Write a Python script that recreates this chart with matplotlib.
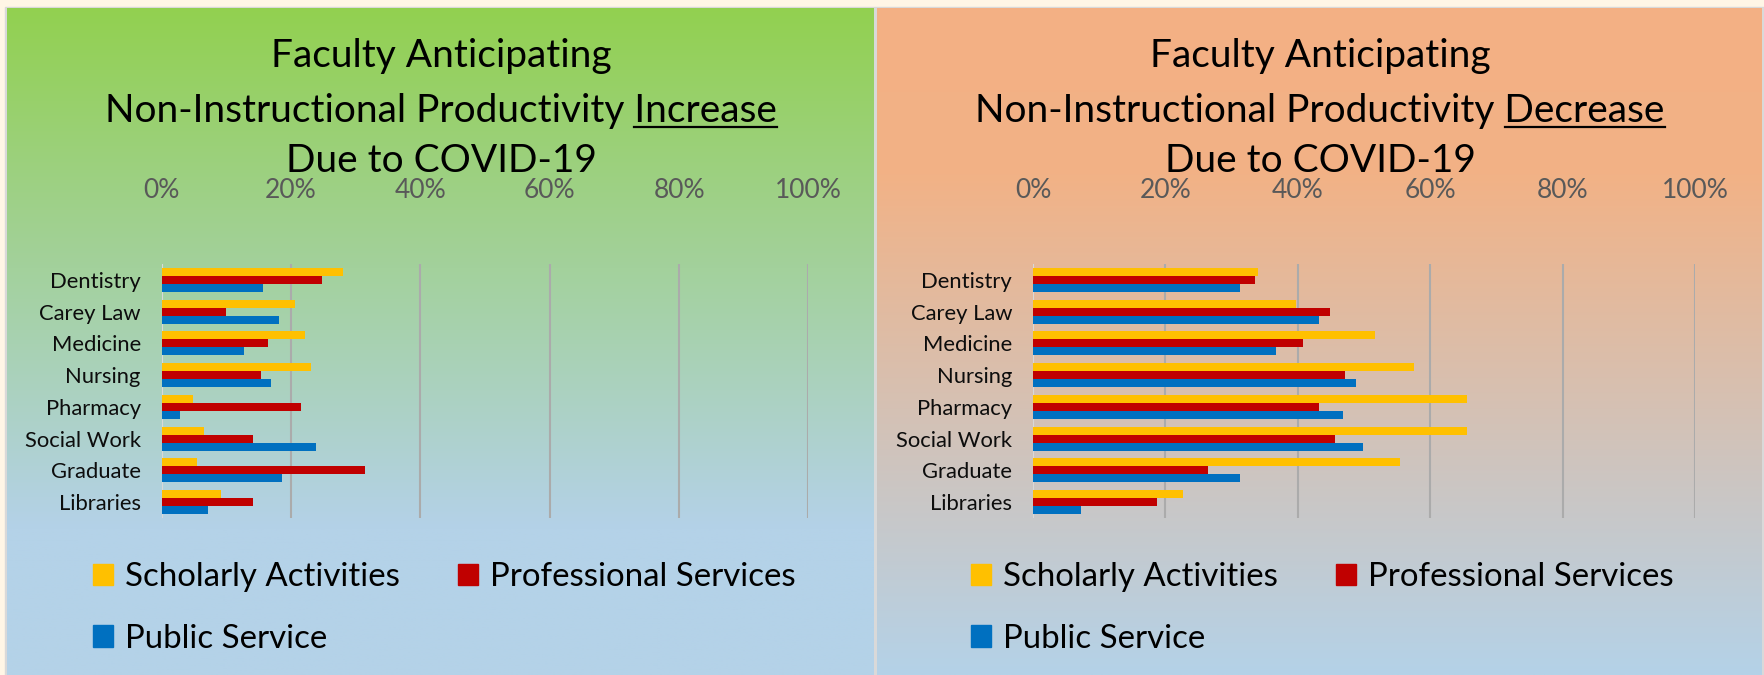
import numpy as np
import matplotlib.pyplot as plt
from matplotlib.patches import Patch, Rectangle
from matplotlib.lines import Line2D

plt.rcParams['font.family'] = ['Lato', 'DejaVu Sans']

# ---------------------------------------------------------------------
# Survey results (share of faculty, %)
# ---------------------------------------------------------------------
schools = ["Dentistry", "Carey Law", "Medicine", "Nursing",
           "Pharmacy", "Social Work", "Graduate", "Libraries"]
series_names = ["Scholarly Activities", "Professional Services", "Public Service"]

increase_scholarly = [28.1, 20.6, 22.2, 23.1, 4.9, 6.6, 5.4, 9.1]
increase_professional = [24.8, 9.9, 16.5, 15.3, 21.5, 14.1, 31.4, 14.1]
increase_public = [15.7, 18.2, 12.8, 16.9, 2.9, 23.9, 18.6, 7.1]

decrease_scholarly = [34.0, 39.7, 51.6, 57.6, 65.6, 65.6, 55.5, 22.7]
decrease_professional = [33.6, 44.8, 40.8, 47.2, 43.2, 45.6, 26.4, 18.8]
decrease_public = [31.2, 43.2, 36.7, 48.8, 46.8, 49.9, 31.2, 7.2]

x_ticks = [0, 20, 40, 60, 80, 100]

colors = ["#FFC000", "#C00000", "#0070C0"]

W, H = 1765, 675
fig = plt.figure(figsize=(W / 100, H / 100), dpi=100)
fig.patch.set_facecolor("#FFF6E6")


def rect(x0, y0, x1, y1):
    # pixel box (top-left origin) -> figure fraction
    return [x0 / W, 1 - y1 / H, (x1 - x0) / W, (y1 - y0) / H]


# thin grey frame around both panels
frame = fig.add_axes([0, 0, 1, 1], zorder=-2)
frame.axis("off")
frame.add_patch(Rectangle((5 / W, 0), 1 - 5 / W, 1 - 7 / H,
                          transform=frame.transAxes, color="#D9D9D9"))


def gradient_panel(box, stops):
    ax = fig.add_axes(rect(*box), zorder=-1)
    pos = np.linspace(0, 1, 300)
    sp = [s[0] for s in stops]
    cols = np.array([s[1] for s in stops], dtype=float) / 255
    img = np.stack([np.interp(pos, sp, cols[:, k]) for k in range(3)], axis=-1)
    img = np.repeat(img[:, None, :], 2, axis=1)
    ax.imshow(img, aspect="auto", extent=[0, 1, 0, 1], origin="upper")
    ax.axis("off")


blue_end = (180, 210, 232)
gradient_panel((7, 8, 874, 675), [(0, (146, 208, 80)), (0.78, blue_end), (1, blue_end)])
gradient_panel((877, 8, 1762, 675), [(0, (244, 176, 132)), (0.25, (242, 178, 134)),
                                     (1, blue_end)])


def draw_panel(ax_box, center_x, word, values):
    ax = fig.add_axes(rect(*ax_box), zorder=2)
    ax.set_facecolor("none")
    y = np.arange(len(schools))
    h = 0.253
    for k, (vals, c) in enumerate(zip(values, colors)):
        ax.barh(y + (k - 1) * h, vals, height=h, color=c, zorder=3)
    ax.set_xlim(0, 100)
    ax.set_ylim(len(schools) - 0.5, -0.5)
    ax.set_yticks(y)
    ax.set_yticklabels(schools, fontsize=15.8, color="#0D0D0D")
    ax.xaxis.tick_top()
    ax.set_xticks(x_ticks)
    ax.set_xticklabels([f"{t}%" for t in x_ticks], fontsize=19, color="#595959")
    ax.tick_params(length=0)
    ax.tick_params(axis="x", pad=44)
    ax.tick_params(axis="y", pad=15)
    for s in ax.spines.values():
        s.set_visible(False)
    ax.axvline(0, color="#D9D9D9", lw=1.5, zorder=2)
    for t in x_ticks[1:]:
        ax.axvline(t, color="#ABABAB", lw=1.5, zorder=2)

    # three-line title, last word of the middle line underlined
    kw = dict(ha="center", va="baseline", fontsize=28, color="black")
    fig.text(center_x / W, 1 - 67 / H, "Faculty Anticipating", **kw)
    mid = fig.text(center_x / W, 1 - 122 / H,
                   f"Non-Instructional Productivity {word}", **kw)
    fig.text(center_x / W, 1 - 172 / H, "Due to COVID-19", **kw)
    r = fig.canvas.get_renderer()
    bb = mid.get_window_extent(r)
    probe = fig.text(0, 0, word, fontsize=28)
    ww = probe.get_window_extent(r).width
    probe.remove()
    uy = (H - 122 - 5) / H
    fig.add_artist(Line2D([(bb.x1 - ww) / W, bb.x1 / W], [uy, uy],
                          transform=fig.transFigure, color="black", lw=1.6))

    handles = [Patch(color=colors[0], label=series_names[0]),
               Patch(color=colors[2], label=series_names[2]),
               Patch(color=colors[1], label=series_names[1])]
    return ax, handles


ax1, hnd = draw_panel((161.7, 264, 808.5, 518), 441, "Increase",
                      [increase_scholarly, increase_professional, increase_public])
ax2, _ = draw_panel((1033, 264, 1695, 518), 1320, "Decrease",
                    [decrease_scholarly, decrease_professional, decrease_public])

for x0 in (93, 971):
    fig.legend(handles=hnd, loc="center left", bbox_to_anchor=(x0 / W, 1 - 608 / H),
               ncol=2, frameon=False, fontsize=23.8, handlelength=0.62, handleheight=0.62,
               handletextpad=0.35, columnspacing=1.75, labelspacing=0.95,
               borderpad=0, borderaxespad=0)

fig.savefig("out.png", dpi=100, facecolor=fig.get_facecolor())
